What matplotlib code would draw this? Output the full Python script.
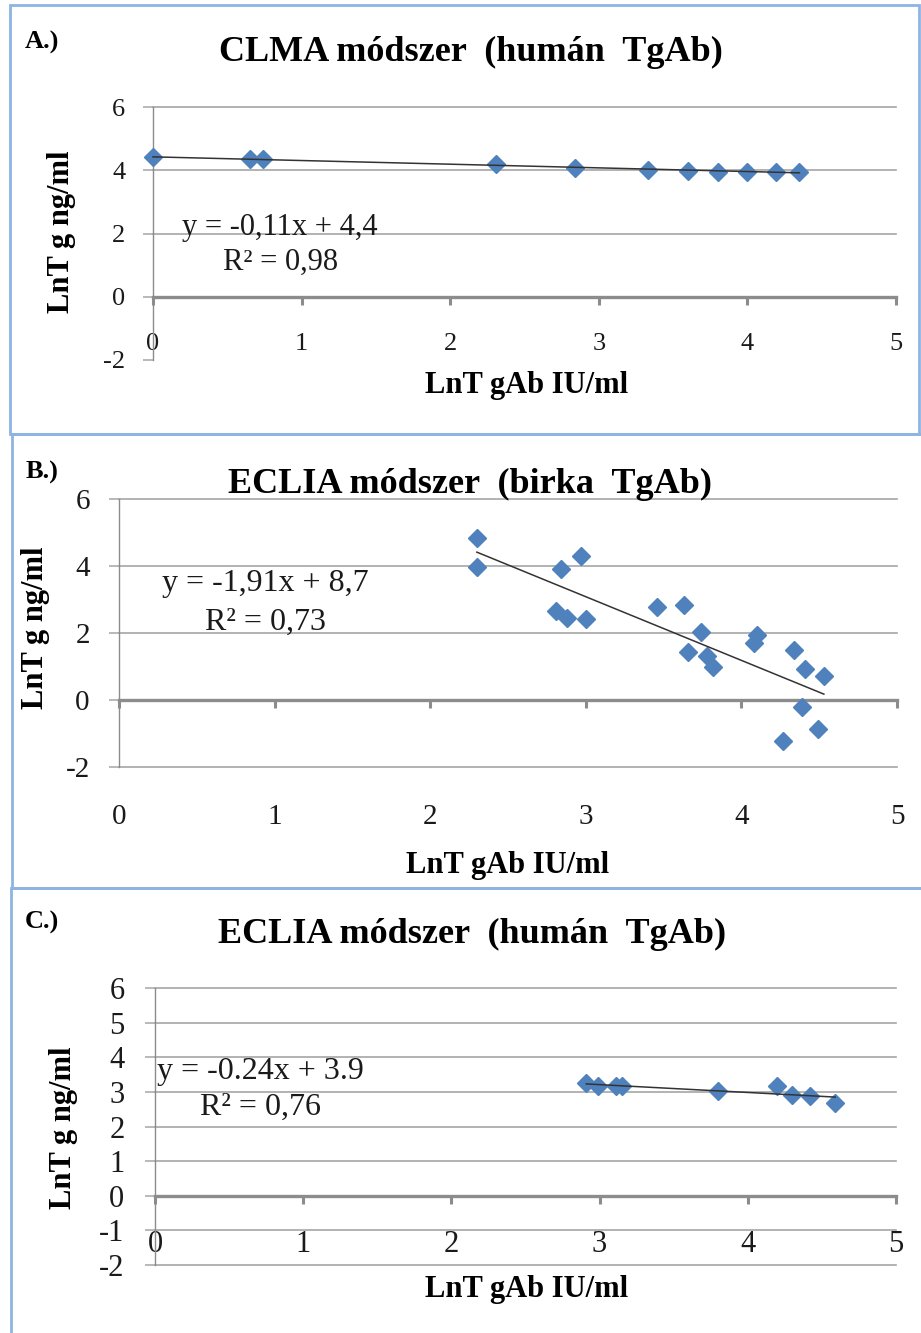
import numpy as np
import matplotlib
matplotlib.use("Agg")
import matplotlib.pyplot as plt
from matplotlib.patches import Rectangle

# ---------------- data ----------------
a_x = [0.0, 0.65, 0.74, 2.31, 2.84, 3.33, 3.60, 3.80, 4.00, 4.19, 4.35]
a_y = [4.42, 4.34, 4.34, 4.21, 4.07, 4.02, 3.99, 3.96, 3.96, 3.96, 3.93]

b_x = [2.30, 2.30, 2.84, 2.97, 2.81, 2.88, 3.00, 3.46, 3.63, 3.74, 3.66,
       3.78, 3.82, 4.10, 4.08, 4.34, 4.41, 4.53, 4.39, 4.49, 4.27]
b_y = [4.83, 3.98, 3.90, 4.30, 2.67, 2.46, 2.41, 2.79, 2.83, 2.02, 1.43,
       1.32, 0.98, 1.95, 1.69, 1.49, 0.93, 0.72, -0.20, -0.87, -1.21]

c_x = [2.91, 2.99, 3.11, 3.15, 3.80, 4.20, 4.30, 4.42, 4.59]
c_y = [3.25, 3.17, 3.16, 3.16, 3.03, 3.17, 2.92, 2.87, 2.69]

titles = ["CLMA módszer  (humán  TgAb)",
          "ECLIA módszer  (birka  TgAb)",
          "ECLIA módszer  (humán  TgAb)"]
panel_tags = ["A.)", "B.)", "C.)"]
equations = ["y = -0,11x + 4,4", "y = -1,91x + 8,7", "y = -0.24x + 3.9"]
r2_texts = ["R² = 0,98", "R² = 0,73", "R² = 0,76"]
xlabel = "LnT gAb IU/ml"
ylabel = "LnT g ng/ml"
x_ticks = [0, 1, 2, 3, 4, 5]
y_ticks_ab = [-2, 0, 2, 4, 6]
y_ticks_c = [-2, -1, 0, 1, 2, 3, 4, 5, 6]

# ---------------- style ----------------
W, H = 921, 1333
SERIF = ["Liberation Serif", "DejaVu Serif"]
plt.rcParams["font.family"] = SERIF
MARK = "#4F81BD"
GRID = "#a6a6a6"
AXC = "#8c8c8c"
TXT = "#1a1a1a"
BORDER = "#8DB4E2"

fig = plt.figure(figsize=(W / 100, H / 100), dpi=100)


def P(x, y):
    return (x / W, 1 - y / H)


def add_ax(x0, x1, ytop, ybot):
    return fig.add_axes([x0 / W, 1 - ybot / H, (x1 - x0) / W, (ybot - ytop) / H])


# panel borders
for (x0, y0, x1, y1) in [(10, 5, 919, 434), (12, 434, 923, 888), (11, 888, 923, 1340)]:
    fig.patches.append(Rectangle(P(x0, y1), (x1 - x0) / W, (y1 - y0) / H,
                                 transform=fig.transFigure, fill=False,
                                 edgecolor=BORDER, lw=2.0))

panels = [
    dict(xs=a_x, ys=a_y, box=(153, 896, 107, 360), yt=y_ticks_ab, fs=19, xpad=20,
         ypad=13, hide_bottom_grid=True, eqfs=22,
         title=(471, 52), tag=(42, 42), eq=(280, 228), r2=(281, 262),
         xl=(527, 385), yl=(62, 232)),
    dict(xs=b_x, ys=b_y, box=(119, 897, 499, 767), yt=y_ticks_ab, fs=21, xpad=69,
         ypad=14, hide_bottom_grid=False, eqfs=23,
         title=(470, 484), tag=(42, 472), eq=(265, 584), r2=(265, 622),
         xl=(508, 865), yl=(35, 628)),
    dict(xs=c_x, ys=c_y, box=(155, 896, 988, 1265), yt=y_ticks_c, fs=22, xpad=19,
         ypad=15, hide_bottom_grid=False, eqfs=23,
         title=(472, 934), tag=(42, 922), eq=(260, 1071), r2=(260, 1107),
         xl=(527, 1290), yl=(63, 1128)),
]

for i, p in enumerate(panels):
    ax = add_ax(*p["box"])
    ax.set_xlim(0, 5)
    ax.set_ylim(-2, 6)
    ax.set_xticks(x_ticks)
    ax.set_yticks(p["yt"])
    ax.set_xticklabels([str(t) for t in x_ticks])
    ax.set_yticklabels([str(t) for t in p["yt"]])
    for s in ["top", "right"]:
        ax.spines[s].set_visible(False)
    ax.spines["bottom"].set_position(("data", 0))
    ax.spines["bottom"].set_color(AXC)
    ax.spines["bottom"].set_linewidth(2.4)
    ax.spines["bottom"].set_zorder(1)
    ax.spines["left"].set_color(AXC)
    ax.spines["left"].set_linewidth(1.0)
    ax.tick_params(axis="x", direction="out", length=6, width=2.2, color=AXC,
                   pad=p["xpad"], labelsize=p["fs"], labelcolor=TXT)
    ax.tick_params(axis="y", direction="out", length=7, width=1.1, color=GRID,
                   pad=p["ypad"], labelsize=p["fs"], labelcolor=TXT)
    ax.set_axisbelow(True)
    ax.yaxis.grid(True, color=GRID, lw=1.2)
    for gl, t in zip(ax.get_ygridlines(), p["yt"]):
        gl.set_clip_on(False)
        if t == 0 or (t == -2 and p["hide_bottom_grid"]):
            gl.set_visible(False)

    xs = np.array(p["xs"])
    ys = np.array(p["ys"])
    ax.plot(xs, ys, linestyle="none", marker="D", markersize=9.5,
            color=MARK, markeredgecolor=MARK, clip_on=False, zorder=3)
    k, b0 = np.polyfit(xs, ys, 1)
    xx = np.array([xs.min(), xs.max()])
    ax.plot(xx, k * xx + b0, color="#333333", lw=1.1, zorder=4, clip_on=False)

    fig.text(*P(*p["title"]), titles[i], ha="center", va="center",
             fontsize=26, fontweight="bold", color="black")
    fig.text(*P(*p["tag"]), panel_tags[i], ha="center", va="center",
             fontsize=19, fontweight="bold", color="black")
    fig.text(*P(*p["eq"]), equations[i], ha="center", va="center",
             fontsize=p["eqfs"], color=TXT)
    fig.text(*P(*p["r2"]), r2_texts[i], ha="center", va="center",
             fontsize=p["eqfs"], color=TXT)
    fig.text(*P(*p["xl"]), xlabel, ha="center", va="center",
             fontsize=22, fontweight="bold", color="black")
    fig.text(*P(*p["yl"]), ylabel, ha="center", va="center", rotation=90,
             fontsize=22, fontweight="bold", color="black")

fig.savefig("out.png", dpi=100)
